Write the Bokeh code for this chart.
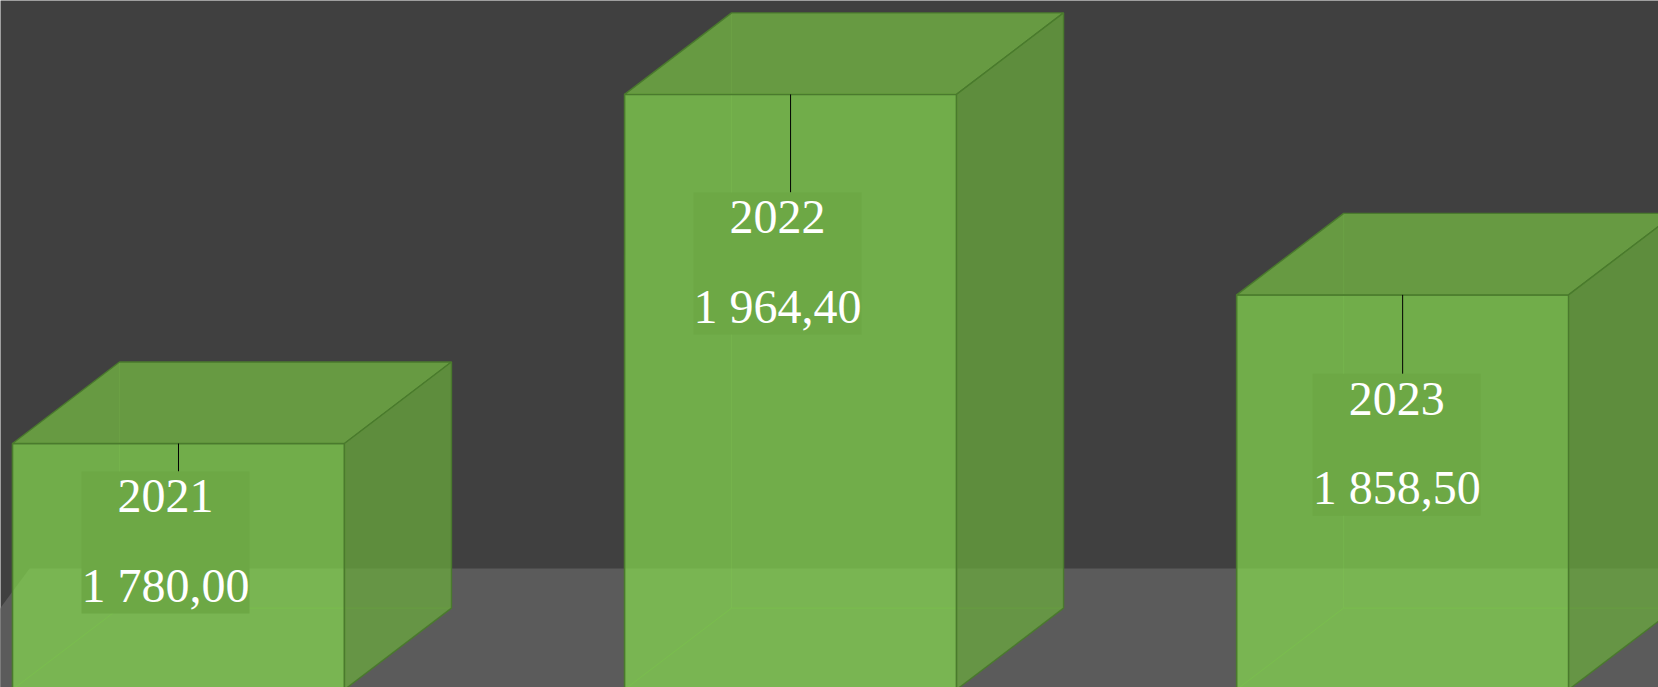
from bokeh.plotting import figure
from bokeh.models import Range1d
from bokeh.embed import file_html
from bokeh.resources import INLINE
from bokeh.core.properties import value

# ---- data ----
years = ["2021", "2022", "2023"]
amounts = [1780.00, 1964.40, 1858.50]

def fmt(v):
    return f"{v:,.2f}".replace(",", " ").replace(".", ",")

value_labels = [fmt(v) for v in amounts]

# ---- layout / style ----
W, H = 1658, 687
REF_W, REF_H = 1658, 687
x0r, x1r = -0.2908, 2.418
y0r, y1r = 1651.1, 2014.0
base = 1650.0             # value-axis start (floor level)
hw = 0.2712               # half bar width (category units)
ddx, ddy = 0.1748, 43.05  # 3D depth offset (x units, value units)
floor_depth = 1.487       # floor depth relative to bar depth

ux = (x1r - x0r) / REF_W  # data units per reference pixel
uy = (y1r - y0r) / REF_H

BG = "#404040"
FLOOR = "#5b5b5b"
FRONT = (134, 220, 78)
TOP = (120, 192, 67)
RIGHT = (107, 174, 60)
EDGE = "#4a7a2d"
LABEL_BG = "#6da845"

# label placement (reference px relative to bar front-top centre)
label_dx = [-13, -13, -6]
label_top = [28, 98, 79]
rect_w, rect_h = 168, 142
year_base, val_base = 25, 114

p = figure(width=W, height=H, x_range=Range1d(x0r, x1r), y_range=Range1d(y0r, y1r),
           output_backend="svg", toolbar_location=None, min_border=0,
           x_axis_type=None, y_axis_type=None)
p.grid.visible = False
p.outline_line_color = None
p.background_fill_color = BG
p.border_fill_color = BG

# floor
fb = base + floor_depth * ddy
fl_back_left = -0.2433
fl_front_left = fl_back_left - floor_depth * ddx
p.patch([fl_back_left, 3.5, 3.5, fl_front_left], [fb, fb, base - 50, base - 50],
        fill_color=FLOOR, line_color=None)

def rgb(c):
    return "#%02x%02x%02x" % c

for i, v in enumerate(amounts):
    xa, xb = i - hw, i + hw
    ya, yb = base, v
    # hidden edges (seen through)
    p.line([xa + ddx, xa + ddx], [ya + ddy, yb + ddy], line_color="#8fc46a", line_alpha=0.18, line_width=1)
    p.line([xa + ddx, xb + ddx], [ya + ddy, ya + ddy], line_color="#5f9a3c", line_alpha=0.5, line_width=1)
    p.line([xa, xa + ddx], [ya, ya + ddy], line_color="#5f9a3c", line_alpha=0.5, line_width=1)
    # front
    p.patch([xa, xb, xb, xa], [ya, ya, yb, yb], fill_color=rgb(FRONT), fill_alpha=0.7,
            line_color=EDGE, line_width=1.6)
    # top
    p.patch([xa, xb, xb + ddx, xa + ddx], [yb, yb, yb + ddy, yb + ddy], fill_color=rgb(TOP),
            fill_alpha=0.7, line_color=EDGE, line_width=1.4)
    # right
    p.patch([xb, xb + ddx, xb + ddx, xb], [ya, ya + ddy, yb + ddy, yb], fill_color=rgb(RIGHT),
            fill_alpha=0.7, line_color=EDGE, line_width=1.4)
    # leader line
    top_y = v - label_top[i] * uy
    p.line([i, i], [v, top_y], line_color="black", line_width=1)
    # label box
    cx = i + label_dx[i] * ux
    p.rect(x=cx, y=top_y - rect_h / 2 * uy, width=rect_w * ux, height=rect_h * uy,
           fill_color=LABEL_BG, line_color=None)
    p.text(x=[cx], y=[top_y - year_base * uy], text=[years[i]], text_font=value("Liberation Serif"),
           text_font_size="48px", text_color="white", text_align="center", text_baseline="alphabetic")
    p.text(x=[cx], y=[top_y - val_base * uy], text=[value_labels[i]], text_font=value("Liberation Serif"),
           text_font_size="48px", text_color="white", text_align="center", text_baseline="alphabetic")

open("out.html", "w").write(file_html(p, INLINE))
